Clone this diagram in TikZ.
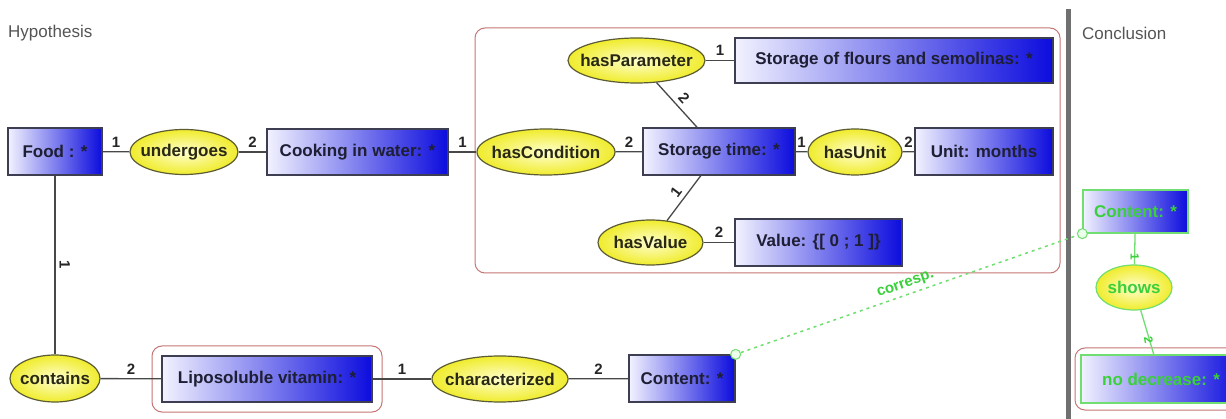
\documentclass[tikz,border=0pt]{standalone}
\usepackage{fontspec}
\setmainfont{Liberation Sans}
\usetikzlibrary{shapes.geometric}

\definecolor{boxL}{RGB}{242,242,255}
\definecolor{boxR}{RGB}{12,12,222}
\definecolor{boxEdge}{RGB}{62,62,82}
\definecolor{boxText}{RGB}{30,30,52}
\definecolor{relIn}{RGB}{255,255,205}
\definecolor{relOut}{RGB}{240,236,45}
\definecolor{relEdge}{RGB}{92,92,52}
\definecolor{relText}{RGB}{40,40,20}
\definecolor{frameRed}{RGB}{198,118,118}
\definecolor{linkGray}{RGB}{72,72,72}
\definecolor{concText}{RGB}{58,208,58}
\definecolor{concEdge}{RGB}{112,222,112}
\definecolor{titleGray}{RGB}{85,85,85}
\definecolor{sepGray}{RGB}{112,112,112}

% zero-width text so that the ellipse keeps its set size
\newcommand\reltext[1]{\makebox[0pt]{#1}}

\begin{document}
\begin{tikzpicture}[x=1pt,y=-1pt,
  cls/.style={rectangle, draw=boxEdge, line width=1.3pt, left color=boxL, right color=boxR,
    text=boxText, font=\fontsize{17}{18}\selectfont\bfseries, inner sep=2pt},
  rel/.style={ellipse, draw=relEdge, line width=1.2pt, inner color=relIn, outer color=relOut,
    text=relText, font=\fontsize{17}{18}\selectfont\bfseries, inner sep=0pt},
  concl/.style={draw=concEdge, text=concText},
  link/.style={draw=linkGray, line width=1.3pt},
  clink/.style={draw=concEdge, line width=1.3pt},
  card/.style={font=\fontsize{15}{15}\selectfont\bfseries, text=black!85, inner sep=1pt},
  ccard/.style={font=\fontsize{12}{12}\selectfont\bfseries, text=concText, inner sep=1pt},
  frame/.style={draw=frameRed, line width=1pt, rounded corners=10pt},
  title/.style={font=\fontsize{17}{18}\selectfont, text=titleGray, anchor=west, inner sep=0pt},
  corr/.style={draw=concEdge, line width=1.5pt, dash pattern=on 3pt off 4pt},
  endc/.style={circle, draw=concEdge, fill=green!8, line width=1pt, minimum size=10pt, inner sep=0pt},
]
\useasboundingbox (0,0) rectangle (1226,419);
\clip (0,0) rectangle (1226,419);
\fill[white] (0,0) rectangle (1226,419);

% panel titles and separator
\node[title] (hyp) at (8,33) {Hypothesis};
\node[title] (conc) at (1082,33) {Conclusion};
\draw[sepGray, line width=5pt] (1068,9) -- (1068,419);

% grouping frames
\draw[frame] (475,28) rectangle (1060,273);
\draw[frame] (152,346) rectangle (382,412);
\draw[frame] (1075,348) rectangle (1252,410);

% hypothesis: upper chain
\node[cls, minimum width=94pt, minimum height=47pt] (food) at (55,151.5) {Food : *};
\node[rel, minimum width=108pt, minimum height=45pt] (undergoes) at (184,152) {\reltext{undergoes}};
\node[cls, minimum width=181pt, minimum height=46pt] (cooking) at (357.5,152) {Cooking in water: *};
\node[rel, minimum width=138pt, minimum height=46pt] (hascond) at (546,152) {\reltext{hasCondition}};
\node[cls, minimum width=152pt, minimum height=47pt] (storage) at (719,151.5) {Storage time: *};
\node[rel, minimum width=94pt, minimum height=46pt] (hasunit) at (855,152) {\reltext{hasUnit}};
\node[cls, minimum width=138pt, minimum height=47pt] (unit) at (984,151.5) {Unit: months};
\node[rel, minimum width=137pt, minimum height=45pt] (hasparam) at (636.5,60.5) {\reltext{hasParameter}};
\node[cls, minimum width=318pt, minimum height=45pt] (flours) at (894,60.5) {Storage of flours and semolinas: *};
\node[rel, minimum width=105pt, minimum height=45pt] (hasvalue) at (650.5,242.5) {\reltext{hasValue}};
\node[cls, minimum width=167pt, minimum height=47pt] (value) at (818.5,242.5) {Value: \{[ 0 ; 1 ]\}};

% hypothesis: lower chain
\node[rel, minimum width=90pt, minimum height=47pt] (contains) at (55,378.5) {\reltext{contains}};
\node[cls, minimum width=210pt, minimum height=46pt] (lipo) at (267,379) {Liposoluble vitamin: *};
\node[rel, minimum width=136pt, minimum height=46pt] (charac) at (500,379) {\reltext{characterized}};
\node[cls, minimum width=106pt, minimum height=47pt] (content) at (682,378.5) {Content: *};

% conclusion
\node[cls, concl, minimum width=105pt, minimum height=43pt] (ccontent) at (1135.5,211.5) {Content: *};
\node[rel, concl, minimum width=76pt, minimum height=45pt] (shows) at (1134,287.5) {\reltext{shows}};
\node[cls, concl, minimum width=160pt, minimum height=48pt] (nodec) at (1161,379) {no decrease: *};

% links with cardinalities
\draw[link] (food) -- node[card, above=3pt] {1} (undergoes);
\draw[link] (undergoes) -- node[card, above=3pt] {2} (cooking);
\draw[link] (cooking) -- node[card, above=3pt] {1} (hascond);
\draw[link] (hascond) -- node[card, above=3pt] {2} (storage);
\draw[link] (storage) -- node[card, above=3pt] {1} (hasunit);
\draw[link] (hasunit) -- node[card, above=3pt] {2} (unit);
\draw[link] (hasparam) -- node[card, above=3pt] {1} (flours);
\draw[link] (hasparam) -- node[card, sloped, above=3pt] {2} (storage);
\draw[link] (storage) -- node[card, sloped, above=3pt] {1} (hasvalue);
\draw[link] (hasvalue) -- node[card, above=3pt] {2} (value);
\draw[link] (food) -- node[card, sloped, above=3pt] {1} (contains);
\draw[link] (contains) -- node[card, above=3pt] {2} (lipo);
\draw[link] (lipo) -- node[card, above=3pt] {1} (charac);
\draw[link] (charac) -- node[card, above=3pt] {2} (content);

\draw[clink] (ccontent) -- node[ccard, rotate=-90, right=3pt] {1} (shows);
\draw[clink] (shows) -- node[ccard, rotate=-80, right=3pt] {2} (nodec);

% correspondence between hypothesis and conclusion
\node[endc] (e1) at (content.north east) {};
\node[endc] (e2) at (ccontent.south west) {};
\draw[corr] (e1) -- node[pos=0.5, sloped, above=0pt, font=\fontsize{15}{15}\selectfont\bfseries, text=concText] {corresp.} (e2);
\end{tikzpicture}
\end{document}
